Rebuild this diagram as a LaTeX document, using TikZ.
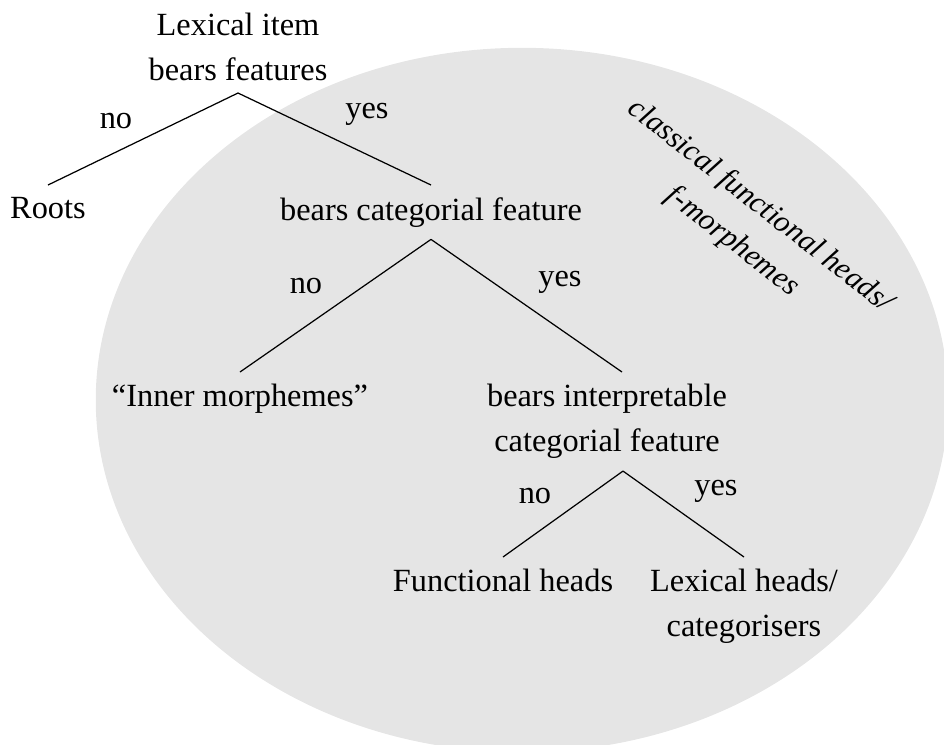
\documentclass[tikz,border=0pt]{standalone}
\usepackage{fontspec}
\setmainfont{Liberation Serif}
\begin{document}
\begin{tikzpicture}[x=0.01cm,y=-0.01cm,
  every node/.style={font=\fontsize{9.2}{12.8}\selectfont},
  item/.style={inner sep=3.3pt,align=center},
  answer/.style={anchor=base,inner sep=0pt},
  branch/.style={draw=black,line width=0.35pt},
  region/.style={fill=gray!20,draw=none}]
  \useasboundingbox (0,0) rectangle (944,744);
  % shaded region of functional heads
  \begin{scope}
    \clip (0,0) rectangle (944,744);
    \fill[region] (522,400) ellipse [x radius=4.26cm, y radius=3.52cm];
  \end{scope}
  \node[font=\fontsize{8.7}{12.8}\selectfont\itshape,align=center,rotate=-38]
    (cfh) at (746,224) {classical functional heads/\\f-morphemes};

  % decision tree
  \node[item,anchor=south] (lex) at (238,93) {Lexical item\\bears features};
  \node[item,anchor=north] (roots) at (48,185) {Roots};
  \node[item,anchor=north] (bcf) at (431,185) {bears categorial feature};
  \node[item,anchor=north] (inner) at (240,372) {“Inner morphemes”};
  \node[item,anchor=north] (bicf) at (607,372) {bears interpretable\\categorial feature};
  \node[item,anchor=north] (fh) at (503,557) {Functional heads};
  \node[item,anchor=north] (lh) at (744,557) {Lexical heads/\\categorisers};

  \draw[branch] (lex.south) -- (roots.north);
  \draw[branch] (lex.south) -- (bcf.north);
  \draw[branch] (bcf.south) -- (inner.north);
  \draw[branch] (bcf.south) -- ([xshift=15*0.01cm]bicf.north);
  \draw[branch] ([xshift=16*0.01cm]bicf.south) -- (fh.north);
  \draw[branch] ([xshift=16*0.01cm]bicf.south) -- (lh.north);

  % branch labels
  \node[answer] (n1) at (116,128) {no};
  \node[answer] (y1) at (367,118) {yes};
  \node[answer] (n2) at (306,293) {no};
  \node[answer] (y2) at (560,286) {yes};
  \node[answer] (n3) at (535,503) {no};
  \node[answer] (y3) at (716,495) {yes};
\end{tikzpicture}
\end{document}
